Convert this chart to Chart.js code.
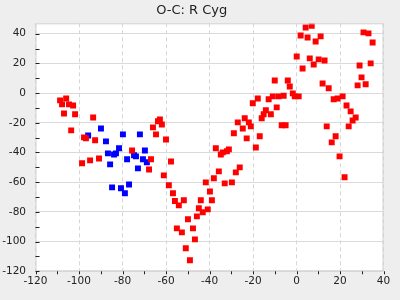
<!DOCTYPE html>
<html>
<head>
<meta charset="utf-8">
<script src="https://cdn.jsdelivr.net/npm/chart.js@4.4.0/dist/chart.umd.min.js"></script>
<style>
  html, body { margin: 0; padding: 0; background: #eeeeee; }
  canvas { display: block; }
</style>
</head>
<body>
<canvas id="c" width="400" height="300"></canvas>
<script>
const chartTitle = "O-C: R Cyg";

const redX = [-108.7,-105.9,-107.8,-104.6,-102.7,-106.9,-101.8,-103.6,-93.5,-97.7,-96.8,-92.6,-98.6,-94.9,-90.8,-75.6,-66.9,-67.8,-66.0,-64.6,-63.7,-62.8,-61.9,-60.0,-57.7,-61.0,-58.7,-56.8,-55.9,-54.1,-51.8,-44.0,-38.9,-44.9,-43.1,-40.8,-45.8,-49.9,-55.0,-52.7,-47.6,-46.7,-50.9,-49.0,-41.7,-39.8,-38.0,-37.1,-35.7,-34.8,-33.9,-33.0,-32.0,-31.1,-29.7,-28.8,-27.9,-27.0,-26.1,-24.7,-23.8,-22.9,-21.9,-21.0,-20.1,-18.7,-17.8,-16.9,-16.0,-15.1,-14.1,-12.8,-11.8,-10.9,-10.0,-9.1,-8.2,-6.8,-5.9,-5.0,-4.0,-3.1,-1.7,-0.8,0.1,1.0,1.9,2.8,4.2,5.1,6.1,7.0,7.9,8.8,10.2,11.1,12.0,12.9,14.8,13.9,16.2,17.1,18.0,18.9,19.8,21.2,22.1,23.0,24.0,24.9,25.8,27.2,28.1,29.0,29.9,30.8,31.8,33.1,34.1,35.0];
const redY = [-4.9,-3.6,-7.6,-7.6,-8.3,-13.7,-14.3,-25.1,-16.4,-29.8,-30.5,-31.8,-47.3,-45.3,-44.0,-38.7,-44.6,-51.4,-23.1,-27.8,-19.0,-17.7,-21.1,-31.2,-46.0,-55.4,-62.1,-67.5,-72.7,-75.6,-72.2,-72.2,-72.2,-77.6,-80.3,-78.3,-83.0,-85.0,-91.1,-93.8,-91.1,-98.5,-104.5,-112.6,-60.1,-66.2,-57.4,-37.2,-52.7,-41.3,-39.9,-60.8,-39.2,-37.9,-60.1,-27.1,-53.4,-19.7,-50.0,-23.8,-17.0,-30.5,-19.7,-22.4,-6.9,-36.6,-3.6,-29.1,-17.0,-14.3,-11.6,-4.2,-14.3,-2.2,8.5,-9.6,-2.2,-21.7,-1.8,-21.7,8.5,4.5,-0.2,-2.2,24.7,-2.2,38.8,16.6,44.2,37.5,23.4,45.4,19.3,34.8,22.7,38.2,6.5,22.0,3.2,-22.4,-33.2,-4.2,-29.1,-3.6,-42.6,-2.2,-56.7,-8.3,-22.4,-12.3,-18.4,-16.4,5.2,18.6,10.6,40.9,5.9,40.2,20.0,34.1];

const blueX = [-95.8,-89.9,-87.6,-86.7,-85.7,-83.9,-83.0,-81.6,-79.8,-77.9,-74.7,-73.8,-72.9,-72.0,-70.6,-69.7,-68.8,-84.8,-80.7,-78.9,-77.0];
const blueY = [-28.5,-23.8,-32.5,-40.6,-48.0,-41.3,-40.6,-37.2,-27.8,-44.6,-41.9,-42.6,-50.7,-27.8,-44.6,-38.6,-46.6,-63.5,-64.1,-67.5,-61.5];

const xTickValues = [-120,-110,-100,-90,-80,-70,-60,-50,-40,-30,-20,-10,0,10,20,30,40];
const yTickValues = [-120,-110,-100,-90,-80,-70,-60,-50,-40,-30,-20,-10,0,10,20,30,40];
const xRange = [-120, 40];
const yRange = [-120, 47];

const toPoints = (xs, ys) => xs.map((x, i) => ({ x: x, y: ys[i] }));

const frame = {
  id: 'frame',
  beforeDraw(chart) {
    const { ctx, chartArea: a } = chart;
    ctx.save();
    ctx.fillStyle = '#eeeeee';
    ctx.fillRect(0, 0, chart.width, chart.height);
    ctx.fillStyle = '#ffffff';
    ctx.fillRect(a.left, a.top, a.right - a.left, a.bottom - a.top);
    ctx.restore();
  },
  afterDraw(chart) {
    const { ctx, chartArea: a, scales } = chart;
    ctx.save();
    ctx.strokeStyle = '#cfcfcf';
    ctx.lineWidth = 1;
    ctx.strokeRect(a.left + 0.5, a.top + 0.5, a.right - a.left - 1, a.bottom - a.top - 1);
    ctx.strokeStyle = '#222222';
    ctx.beginPath();
    xTickValues.forEach(v => {
      const px = Math.round(scales.x.getPixelForValue(v)) + 0.5;
      ctx.moveTo(px, a.bottom);
      ctx.lineTo(px, a.bottom + 3);
    });
    yTickValues.forEach(v => {
      const py = Math.round(scales.y.getPixelForValue(v)) + 0.5;
      ctx.moveTo(a.left, py);
      ctx.lineTo(a.left + 4, py);
    });
    ctx.stroke();
    ctx.restore();
  }
};

new Chart(document.getElementById('c'), {
  type: 'scatter',
  data: {
    datasets: [
      { label: 'red', data: toPoints(redX, redY), pointStyle: 'rect', pointRadius: 4.2, pointHoverRadius: 4.2, borderWidth: 0, backgroundColor: '#ff0000', borderColor: '#ff0000' },
      { label: 'blue', data: toPoints(blueX, blueY), pointStyle: 'rect', pointRadius: 4.2, pointHoverRadius: 4.2, borderWidth: 0, backgroundColor: '#0000ff', borderColor: '#0000ff' }
    ]
  },
  options: {
    responsive: false,
    animation: false,
    devicePixelRatio: 1,
    layout: { padding: { left: 0, right: 16.5, top: 0, bottom: 0 } },
    plugins: {
      legend: { display: false },
      tooltip: { enabled: false },
      title: {
        display: true,
        text: chartTitle,
        color: '#222222',
        font: { family: 'DejaVu Sans', size: 13, weight: 'normal', lineHeight: 1.2 },
        padding: { top: 3, bottom: 4.7 }
      }
    },
    scales: {
      x: {
        type: 'linear',
        min: xRange[0], max: xRange[1],
        afterBuildTicks: s => { s.ticks = xTickValues.map(v => ({ value: v })); },
        afterFit: s => { s.height = 28.7; },
        ticks: {
          autoSkip: false, maxRotation: 0, padding: 4,
          color: '#222222',
          font: { family: 'DejaVu Sans', size: 10.5 },
          callback: v => (v % 20 === 0 ? String(v) : '')
        },
        grid: {
          drawTicks: false,
          lineWidth: 1,
          color: c => (c.tick && c.tick.value % 20 === 0 ? '#d6d6d6' : 'rgba(0,0,0,0)')
        },
        border: { display: false, dash: [4, 3] }
      },
      y: {
        type: 'linear',
        min: yRange[0], max: yRange[1],
        afterBuildTicks: s => { s.ticks = yTickValues.map(v => ({ value: v })); },
        afterFit: s => { s.width = 35.5; },
        ticks: {
          autoSkip: false, padding: 9.5,
          color: '#222222',
          font: { family: 'DejaVu Sans', size: 10.5 },
          callback: v => (v % 20 === 0 ? String(v) : '')
        },
        grid: {
          drawTicks: false,
          lineWidth: 1,
          color: c => (c.tick && c.tick.value % 20 === 0 ? '#dadada' : 'rgba(0,0,0,0)')
        },
        border: { display: false }
      }
    }
  },
  plugins: [frame]
});
</script>
</body>
</html>
